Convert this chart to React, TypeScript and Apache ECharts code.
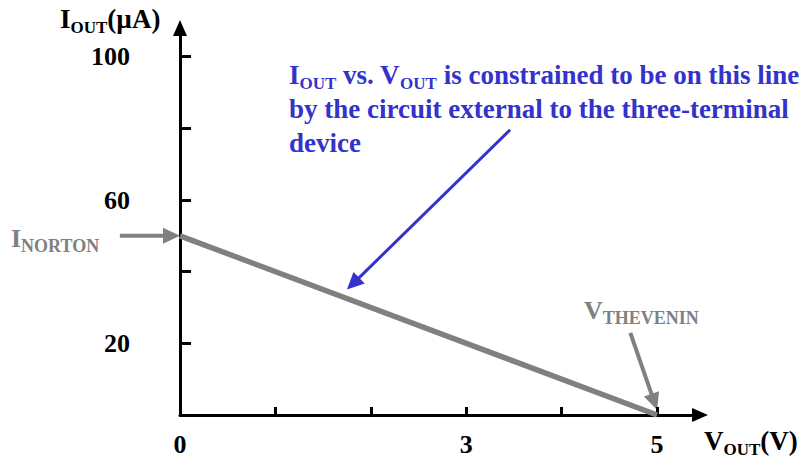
import React, { useEffect, useRef } from "react";
import * as echarts from "echarts";

// Load line: I_OUT (µA) vs V_OUT (V)
const lineV = [0, 5];
const lineI = [50, 0];
// Axis ticks and labels
const xTicks = [1, 2, 3, 4, 5];
const xLabels = [0, 3, 5];
const yTicks = [20, 40, 60, 80, 100];
const yLabels = [20, 60, 100];
// Annotation arrows in data units: [tailV, tailI, tipV, tipI]
const nortonArrow = [-0.63, 50, 0, 50];
const theveninArrow = [4.72, 22.9, 5.0, 1.4];
const noteArrow = [3.46, 79.6, 1.75, 35.0];

const SERIF = "Liberation Serif, Times New Roman, serif";
const GRAY = "#808080";
const BLUE = "#3333CC";

export default function App() {
  const ref = useRef<HTMLDivElement>(null);
  useEffect(() => {
    if (!ref.current) return;
    const chart = echarts.init(ref.current, null, { renderer: "svg" });
    const axisCommon = {
      axisLine: {
        show: true,
        onZero: false,
        lineStyle: { color: "#000", width: 3 },
        symbol: ["none", "triangle"],
        symbolSize: [14, 16],
      },
      splitLine: { show: false },
    };
    chart.setOption({
      animation: false,
      grid: { left: 180, right: 100, top: 28, bottom: 48 },
      xAxis: {
        type: "value",
        min: 0,
        max: 5.45,
        interval: 1,
        ...axisCommon,
        axisTick: {
          show: true,
          inside: true,
          length: 8,
          customValues: xTicks,
          lineStyle: { color: "#000", width: 3 },
        },
        axisLabel: {
          customValues: xLabels,
          margin: 16,
          fontFamily: SERIF,
          fontWeight: "bold",
          fontSize: 26,
          color: "#000",
        },
      },
      yAxis: {
        type: "value",
        min: 0,
        max: 108,
        interval: 20,
        ...axisCommon,
        axisTick: {
          show: true,
          inside: true,
          length: 11,
          customValues: yTicks,
          lineStyle: { color: "#000", width: 3 },
        },
        axisLabel: {
          customValues: yLabels,
          margin: 50,
          fontFamily: SERIF,
          fontWeight: "bold",
          fontSize: 26,
          color: "#000",
        },
      },
      series: [
        {
          type: "line",
          data: lineV.map((v, i) => [v, lineI[i]]),
          symbol: "none",
          clip: false,
          lineStyle: { color: GRAY, width: 5.5 },
        },
      ],
    });

    const px = (v: number, i: number) =>
      chart.convertToPixel({ gridIndex: 0 }, [v, i]) as number[];

    const arrow = (a: number[], color: string, width: number, len: number, hw: number) => {
      const p0 = px(a[0], a[1]);
      const p1 = px(a[2], a[3]);
      const dx = p1[0] - p0[0];
      const dy = p1[1] - p0[1];
      const d = Math.hypot(dx, dy);
      const ux = dx / d;
      const uy = dy / d;
      const bx = p1[0] - ux * len;
      const by = p1[1] - uy * len;
      return [
        {
          type: "line",
          shape: { x1: p0[0], y1: p0[1], x2: bx + ux * 2, y2: by + uy * 2 },
          style: { stroke: color, lineWidth: width },
        },
        {
          type: "polygon",
          shape: {
            points: [
              [p1[0], p1[1]],
              [bx - uy * hw, by + ux * hw],
              [bx + uy * hw, by - ux * hw],
            ],
          },
          style: { fill: color },
        },
      ];
    };

    const richText = (
      x: number,
      y: number,
      text: string,
      color: string,
      main: number,
      sub: number,
      lh: number,
      subLh: number
    ) => ({
      type: "text",
      x,
      y,
      style: {
        text,
        fill: color,
        fontFamily: SERIF,
        fontWeight: "bold",
        fontSize: main,
        lineHeight: lh,
        rich: {
          m: { fontFamily: SERIF, fontWeight: "bold", fontSize: main, lineHeight: lh, fill: color },
          s: {
            fontFamily: SERIF,
            fontWeight: "bold",
            fontSize: sub,
            lineHeight: subLh,
            verticalAlign: "bottom",
            fill: color,
          },
        },
      },
    });

    chart.setOption({
      graphic: [
        ...arrow(nortonArrow, GRAY, 4, 17, 8),
        ...arrow(theveninArrow, GRAY, 4, 17, 8),
        ...arrow(noteArrow, BLUE, 3, 17, 8),
        richText(60, 2, "{m|I}{s|OUT}{m|(µA)}", "#000", 27, 17, 34, 16),
        richText(704, 424, "{m|V}{s|OUT}{m|(V)}", "#000", 27, 17, 34, 16),
        richText(11, 221, "{m|I}{s|NORTON}", GRAY, 26, 18, 34, 17),
        richText(584, 293, "{m|V}{s|THEVENIN}", GRAY, 26, 18, 34, 17),
        richText(
          289,
          58,
          "{m|I}{s|OUT}{m| vs. V}{s|OUT}{m| is constrained to be on this line}\n{m|by the circuit external to the three-terminal}\n{m|device}",
          BLUE,
          27,
          17,
          34,
          16
        ),
      ],
    });

    return () => chart.dispose();
  }, []);
  return (
    <div
      ref={ref}
      style={{ position: "fixed", left: 0, top: 0, width: 800, height: 463, background: "#fff" }}
    />
  );
}
